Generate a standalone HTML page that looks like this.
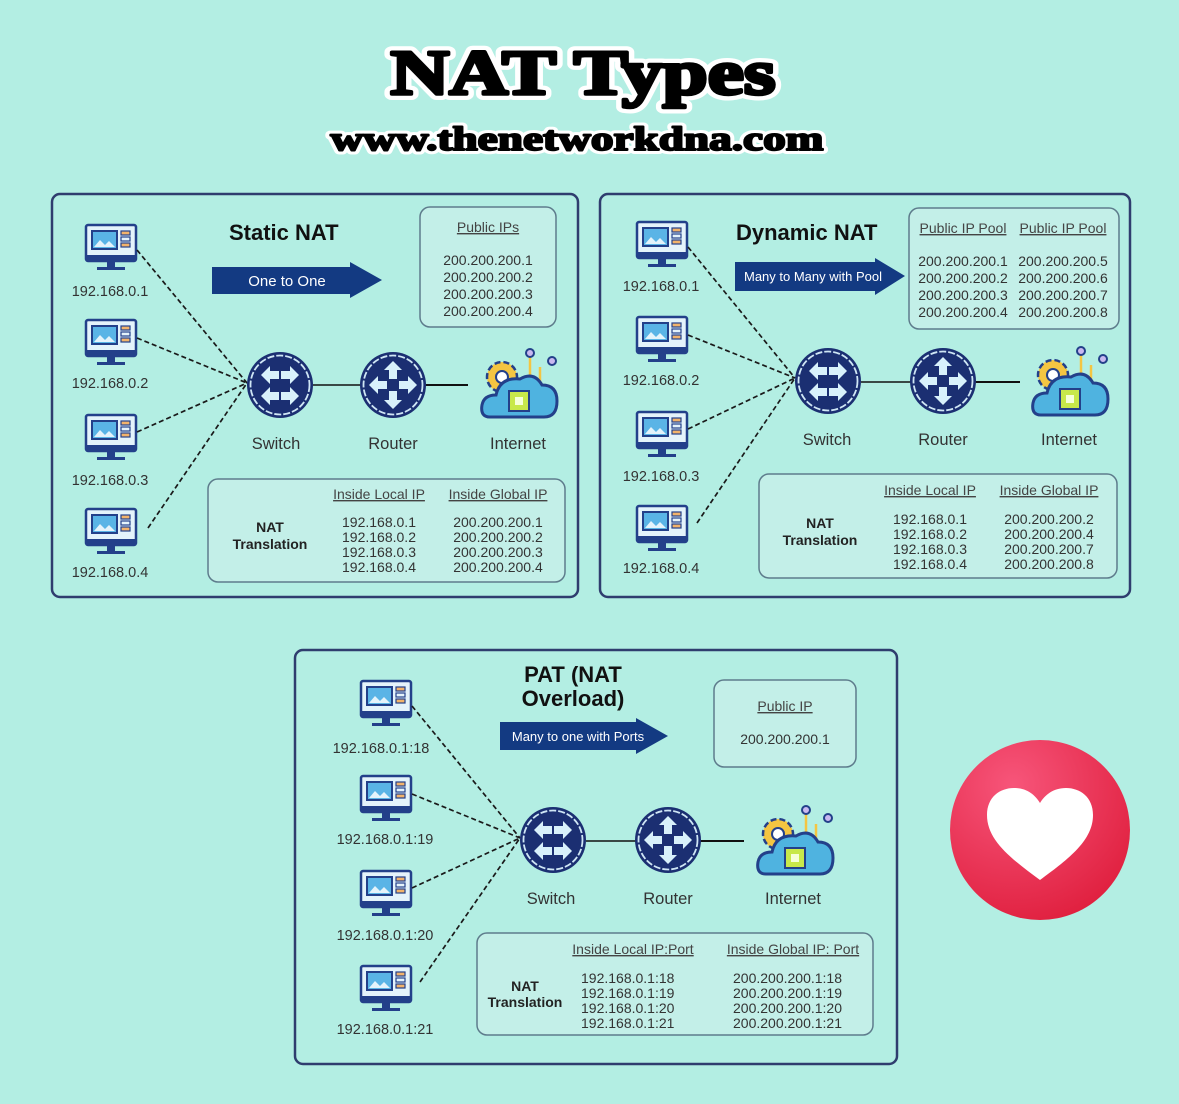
<!DOCTYPE html>
<html><head><meta charset="utf-8"><style>
html,body{margin:0;padding:0;background:#b3eee3;}
svg{display:block;font-family:"Liberation Sans",sans-serif;}
</style></head><body>
<svg width="1179" height="1104" viewBox="0 0 1179 1104" xmlns="http://www.w3.org/2000/svg">
<defs>
<g id="pc">
<rect x="1" y="1" width="50" height="36" rx="2" fill="#e4f3fb" stroke="#23408a" stroke-width="2.5"/>
<rect x="1" y="31" width="50" height="6" fill="#23408a"/>
<rect x="7" y="7" width="25" height="18" fill="#5ab4e6" stroke="#23408a" stroke-width="2"/>
<path d="M9,23 L15,16 L20,21 L24,17 L30,23 Z" fill="#e4f3fb"/>
<rect x="36" y="7" width="9" height="4" fill="#f2b36b" stroke="#23408a" stroke-width="1.2"/>
<rect x="36" y="13" width="9" height="4" fill="#e4f3fb" stroke="#23408a" stroke-width="1.2"/>
<rect x="36" y="19" width="9" height="4" fill="#f2b36b" stroke="#23408a" stroke-width="1.2"/>
<rect x="22" y="37" width="8" height="6" fill="#23408a"/>
<rect x="12" y="43" width="28" height="3" fill="#23408a"/>
</g>
<polygon id="ar" points="-8,-4 1,-4 1,-9 10,0 1,9 1,4 -8,4" fill="#d8f1fb"/>
<g id="sw">
<circle r="33" fill="#1b2f72"/>
<circle r="29.5" fill="none" stroke="#cfe6f5" stroke-width="1.8" stroke-dasharray="7 2"/>
<use href="#ar" transform="translate(-9,-10) rotate(180)"/>
<use href="#ar" transform="translate(9,-10)"/>
<use href="#ar" transform="translate(-9,11) rotate(180)"/>
<use href="#ar" transform="translate(9,11)"/>
</g>
<g id="rt">
<circle r="33" fill="#1b2f72"/>
<circle r="29.5" fill="none" stroke="#cfe6f5" stroke-width="1.8" stroke-dasharray="7 2"/>
<use href="#ar" transform="translate(0,-14) rotate(-90)"/>
<use href="#ar" transform="translate(0,14) rotate(90)"/>
<use href="#ar" transform="translate(-14,0) rotate(180)"/>
<use href="#ar" transform="translate(14,0)"/>
</g>
<g id="net">
<line x1="50" y1="12" x2="50" y2="42" stroke="#f4c542" stroke-width="2.5"/>
<line x1="60" y1="22" x2="60" y2="42" stroke="#f4c542" stroke-width="2.5"/>
<circle cx="50" cy="8" r="4" fill="#c9b8f0" stroke="#23408a" stroke-width="2"/>
<circle cx="72" cy="16" r="4" fill="#c9b8f0" stroke="#23408a" stroke-width="2"/>
<circle cx="22" cy="32" r="15" fill="#f4c542" stroke="#23408a" stroke-width="2.5" stroke-dasharray="6 3"/>
<circle cx="22" cy="32" r="11" fill="#f4c542"/>
<circle cx="22" cy="32" r="6" fill="#fff" stroke="#23408a" stroke-width="2"/>
<path d="M10,72 Q0,72 2,60 Q4,50 16,50 Q20,32 40,34 Q54,26 62,40 Q77,40 77,56 Q77,72 64,72 Z" fill="#4fb3e0" stroke="#23408a" stroke-width="3"/>
<rect x="29" y="46" width="20" height="20" fill="#c8e84a" stroke="#23408a" stroke-width="2"/>
<rect x="35" y="52" width="8" height="8" fill="#f6ffd8"/>
</g>
<radialGradient id="hg" cx="0.35" cy="0.25" r="0.8"><stop offset="0" stop-color="#f7557a"/><stop offset="1" stop-color="#e0203f"/></radialGradient>
</defs>

<!-- Title -->
<g font-family="Liberation Serif,serif" font-weight="bold" text-anchor="middle" stroke-linejoin="round">
<text x="583" y="94" font-size="64" textLength="385" lengthAdjust="spacingAndGlyphs" fill="#fff" stroke="#fff" stroke-width="12">NAT Types</text>
<text x="583" y="94" font-size="64" textLength="385" lengthAdjust="spacingAndGlyphs" fill="#000" stroke="#000" stroke-width="3.5">NAT Types</text>
<text x="577" y="150" font-size="34" textLength="493" lengthAdjust="spacingAndGlyphs" fill="#fff" stroke="#fff" stroke-width="8">www.thenetworkdna.com</text>
<text x="577" y="150" font-size="34" textLength="493" lengthAdjust="spacingAndGlyphs" fill="#000" stroke="#000" stroke-width="2">www.thenetworkdna.com</text>
</g>

<g font-size="14" fill="#333">
<!-- Panel 1 -->
<rect x="52" y="194" width="526" height="403" rx="8" fill="none" stroke="#2f3d6e" stroke-width="2.5"/>
<use href="#pc" x="85" y="224"/><use href="#pc" x="85" y="319"/><use href="#pc" x="85" y="414"/><use href="#pc" x="85" y="508"/>
<g text-anchor="middle" font-size="14.5"><text x="110" y="296">192.168.0.1</text><text x="110" y="388">192.168.0.2</text><text x="110" y="485">192.168.0.3</text><text x="110" y="577">192.168.0.4</text></g>
<g stroke="#1a1a1a" stroke-width="1.7" stroke-dasharray="5 3"><line x1="137" y1="250" x2="247" y2="383"/><line x1="137" y1="338" x2="247" y2="383"/><line x1="137" y1="432" x2="247" y2="383"/><line x1="148" y1="528" x2="247" y2="383"/></g>
<text x="229" y="240" font-size="22" font-weight="bold" fill="#111">Static NAT</text>
<polygon points="212,267 350,267 350,262 382,280 350,298 350,294 212,294" fill="#133a82"/>
<text x="287" y="286" text-anchor="middle" font-size="15" fill="#fff">One to One</text>
<rect x="420" y="207" width="136" height="120" rx="10" fill="#c3efe8" stroke="#5e7c8c" stroke-width="1.5"/>
<text x="488" y="232" text-anchor="middle" text-decoration="underline" fill="#444">Public IPs</text>
<g text-anchor="middle" fill="#333"><text x="488" y="265">200.200.200.1</text><text x="488" y="282">200.200.200.2</text><text x="488" y="299">200.200.200.3</text><text x="488" y="316">200.200.200.4</text></g>
<line x1="313" y1="385" x2="430" y2="385" stroke="#111" stroke-width="1.5"/><line x1="426" y1="385" x2="468" y2="385" stroke="#111" stroke-width="2"/>
<use href="#sw" x="280" y="385"/><use href="#rt" x="393" y="385"/><use href="#net" x="480" y="345"/>
<g text-anchor="middle" font-size="16.5"><text x="276" y="449">Switch</text><text x="393" y="449">Router</text><text x="518" y="449">Internet</text></g>
<rect x="208" y="479" width="357" height="103" rx="10" fill="#c3efe8" stroke="#5e7c8c" stroke-width="1.5"/>
<g text-anchor="middle" text-decoration="underline" fill="#444"><text x="379" y="499">Inside Local IP</text><text x="498" y="499">Inside Global IP</text></g>
<g text-anchor="middle" font-weight="bold" fill="#222"><text x="270" y="532">NAT</text><text x="270" y="549">Translation</text></g>
<g text-anchor="middle"><text x="379" y="527">192.168.0.1</text><text x="379" y="542">192.168.0.2</text><text x="379" y="557">192.168.0.3</text><text x="379" y="572">192.168.0.4</text>
<text x="498" y="527">200.200.200.1</text><text x="498" y="542">200.200.200.2</text><text x="498" y="557">200.200.200.3</text><text x="498" y="572">200.200.200.4</text></g>

<!-- Panel 2 -->
<rect x="600" y="194" width="530" height="403" rx="8" fill="none" stroke="#2f3d6e" stroke-width="2.5"/>
<use href="#pc" x="636" y="221"/><use href="#pc" x="636" y="316"/><use href="#pc" x="636" y="411"/><use href="#pc" x="636" y="505"/>
<g text-anchor="middle" font-size="14.5"><text x="661" y="291">192.168.0.1</text><text x="661" y="385">192.168.0.2</text><text x="661" y="481">192.168.0.3</text><text x="661" y="573">192.168.0.4</text></g>
<g stroke="#1a1a1a" stroke-width="1.7" stroke-dasharray="5 3"><line x1="688" y1="247" x2="795" y2="378"/><line x1="688" y1="335" x2="795" y2="378"/><line x1="688" y1="429" x2="795" y2="378"/><line x1="697" y1="523" x2="795" y2="378"/></g>
<text x="736" y="240" font-size="22" font-weight="bold" fill="#111">Dynamic NAT</text>
<polygon points="735,262 875,262 875,258 905,276 875,295 875,291 735,291" fill="#133a82"/>
<text x="813" y="281" text-anchor="middle" font-size="13" fill="#fff">Many to Many with Pool</text>
<rect x="909" y="208" width="210" height="121" rx="10" fill="#c3efe8" stroke="#5e7c8c" stroke-width="1.5"/>
<g text-anchor="middle" text-decoration="underline" fill="#444"><text x="963" y="233">Public IP Pool</text><text x="1063" y="233">Public IP Pool</text></g>
<g text-anchor="middle"><text x="963" y="266">200.200.200.1</text><text x="963" y="283">200.200.200.2</text><text x="963" y="300">200.200.200.3</text><text x="963" y="317">200.200.200.4</text>
<text x="1063" y="266">200.200.200.5</text><text x="1063" y="283">200.200.200.6</text><text x="1063" y="300">200.200.200.7</text><text x="1063" y="317">200.200.200.8</text></g>
<line x1="861" y1="382" x2="980" y2="382" stroke="#111" stroke-width="1.5"/><line x1="976" y1="382" x2="1020" y2="382" stroke="#111" stroke-width="2"/>
<use href="#sw" x="828" y="381"/><use href="#rt" x="943" y="381"/><use href="#net" x="1031" y="343"/>
<g text-anchor="middle" font-size="16.5"><text x="827" y="445">Switch</text><text x="943" y="445">Router</text><text x="1069" y="445">Internet</text></g>
<rect x="759" y="474" width="358" height="104" rx="10" fill="#c3efe8" stroke="#5e7c8c" stroke-width="1.5"/>
<g text-anchor="middle" text-decoration="underline" fill="#444"><text x="930" y="495">Inside Local IP</text><text x="1049" y="495">Inside Global IP</text></g>
<g text-anchor="middle" font-weight="bold" fill="#222"><text x="820" y="528">NAT</text><text x="820" y="545">Translation</text></g>
<g text-anchor="middle"><text x="930" y="524">192.168.0.1</text><text x="930" y="539">192.168.0.2</text><text x="930" y="554">192.168.0.3</text><text x="930" y="569">192.168.0.4</text>
<text x="1049" y="524">200.200.200.2</text><text x="1049" y="539">200.200.200.4</text><text x="1049" y="554">200.200.200.7</text><text x="1049" y="569">200.200.200.8</text></g>

<!-- Panel 3 -->
<rect x="295" y="650" width="602" height="414" rx="8" fill="none" stroke="#2f3d6e" stroke-width="2.5"/>
<use href="#pc" x="360" y="680"/><use href="#pc" x="360" y="775"/><use href="#pc" x="360" y="870"/><use href="#pc" x="360" y="965"/>
<g text-anchor="middle" font-size="14.5"><text x="381" y="753">192.168.0.1:18</text><text x="385" y="844">192.168.0.1:19</text><text x="385" y="940">192.168.0.1:20</text><text x="385" y="1034">192.168.0.1:21</text></g>
<g stroke="#1a1a1a" stroke-width="1.7" stroke-dasharray="5 3"><line x1="412" y1="706" x2="520" y2="838"/><line x1="412" y1="794" x2="520" y2="838"/><line x1="412" y1="888" x2="520" y2="838"/><line x1="420" y1="982" x2="520" y2="838"/></g>
<g text-anchor="middle" font-size="22" font-weight="bold" fill="#111"><text x="573" y="682">PAT (NAT</text><text x="573" y="706">Overload)</text></g>
<polygon points="500,722 636,722 636,718 668,736 636,754 636,750 500,750" fill="#133a82"/>
<text x="578" y="741" text-anchor="middle" font-size="13" fill="#fff">Many to one with Ports</text>
<rect x="714" y="680" width="142" height="87" rx="10" fill="#c3efe8" stroke="#5e7c8c" stroke-width="1.5"/>
<text x="785" y="711" text-anchor="middle" text-decoration="underline" fill="#444">Public IP</text>
<text x="785" y="744" text-anchor="middle">200.200.200.1</text>
<line x1="586" y1="841" x2="703" y2="841" stroke="#111" stroke-width="1.5"/><line x1="700" y1="841" x2="744" y2="841" stroke="#111" stroke-width="2"/>
<use href="#sw" x="553" y="840"/><use href="#rt" x="668" y="840"/><use href="#net" x="756" y="802"/>
<g text-anchor="middle" font-size="16.5"><text x="551" y="904">Switch</text><text x="668" y="904">Router</text><text x="793" y="904">Internet</text></g>
<rect x="477" y="933" width="396" height="102" rx="10" fill="#c3efe8" stroke="#5e7c8c" stroke-width="1.5"/>
<g text-anchor="middle" text-decoration="underline" fill="#444"><text x="633" y="954">Inside Local IP:Port</text><text x="793" y="954">Inside Global IP: Port</text></g>
<g text-anchor="middle" font-weight="bold" fill="#222"><text x="525" y="991">NAT</text><text x="525" y="1007">Translation</text></g>
<g><text x="581" y="983">192.168.0.1:18</text><text x="581" y="998">192.168.0.1:19</text><text x="581" y="1013">192.168.0.1:20</text><text x="581" y="1028">192.168.0.1:21</text>
<text x="733" y="983">200.200.200.1:18</text><text x="733" y="998">200.200.200.1:19</text><text x="733" y="1013">200.200.200.1:20</text><text x="733" y="1028">200.200.200.1:21</text></g>
</g>

<!-- Heart -->
<circle cx="1040" cy="830" r="90" fill="url(#hg)"/>
<path d="M1040,880 C1010,858 987,840 987,815 C987,797 1000,788 1014,788 C1027,788 1035,795 1040,803 C1045,795 1053,788 1066,788 C1080,788 1093,797 1093,815 C1093,840 1070,858 1040,880 Z" fill="#fff"/>
</svg>
</body></html>
